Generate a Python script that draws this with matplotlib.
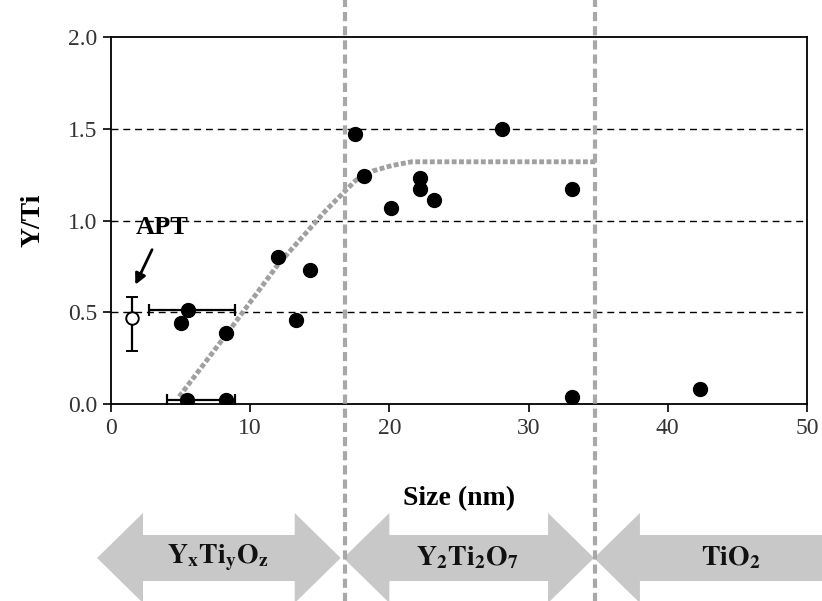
import matplotlib
matplotlib.use("Agg")
import matplotlib.pyplot as plt
import matplotlib.transforms as mtransforms
from matplotlib.patches import Polygon

plt.rcParams['font.family'] = ['Liberation Serif', 'DejaVu Serif']
plt.rcParams['mathtext.fontset'] = 'stix'

# measured points (size nm, Y/Ti)
size_nm = [5.0, 5.5, 5.45, 8.27, 8.27, 12.0, 13.3, 14.27, 17.55, 18.2,
           20.1, 22.2, 22.2, 23.2, 28.06, 33.1, 33.1, 42.3]
y_ti = [0.44, 0.51, 0.02, 0.02, 0.385, 0.80, 0.46, 0.73, 1.47, 1.24,
        1.07, 1.23, 1.17, 1.11, 1.50, 1.17, 0.04, 0.08]

# APT point with vertical error bar
apt_x = 1.5
apt_y = 0.467
apt_err = [[0.178], [0.118]]

# horizontal error bars
herr_x = [5.5, 5.45]
herr_y = [0.51, 0.02]
herr_lo = [2.75, 1.45]
herr_hi = [3.4, 3.45]

# trend guide (gray dotted)
curve_x = [4.9, 8.3, 12.0, 15.5, 17.6, 18.8, 20.2, 21.6, 34.8]
curve_y = [0.04, 0.38, 0.76, 1.06, 1.22, 1.27, 1.30, 1.32, 1.32]

# phase boundaries and bottom arrows
boundaries = [16.8, 34.8]
phase_labels = [r'$\mathbf{Y_xTi_yO_z}$', r'$\mathbf{Y_2Ti_2O_7}$', r'$\mathbf{TiO_2}$']
phase_spans = [(-1.0, 16.5), (16.7, 34.7), (34.7, 53.0)]
phase_heads = [(True, True), (True, True), (True, False)]
label_x = [7.7, 25.6, 44.5]

fig = plt.figure(figsize=(8.22, 6.01), dpi=100)
ax = fig.add_axes([0.135, 0.3278, 0.8467, 0.6106])

ax.set_xlim(0, 50)
ax.set_ylim(0, 2.0)

for yy in [0.5, 1.0, 1.5]:
    ax.axhline(yy, color='black', lw=1.0, ls=(0, (5, 3.5)), zorder=1)

ax.plot(curve_x, curve_y, color='#a0a0a0', lw=3.5, ls=(0, (1.0, 0.5)), zorder=2)

ax.errorbar(herr_x, herr_y, xerr=[herr_lo, herr_hi], fmt='none', ecolor='black',
            elinewidth=1.6, capsize=4, capthick=1.6, zorder=3)
ax.plot(size_nm, y_ti, 'o', color='black', ms=10, zorder=4)
ax.errorbar([apt_x], [apt_y], yerr=apt_err, fmt='o', mfc='white', mec='black',
            mew=1.4, ms=9, ecolor='black', elinewidth=1.6, capsize=4, capthick=1.6, zorder=5)

ax.annotate('APT', xy=(1.75, 0.65), xytext=(3.7, 0.96), ha='center', va='center',
            fontsize=19, fontweight='bold',
            arrowprops=dict(arrowstyle='-|>', color='black', lw=2.0, mutation_scale=16,
                            shrinkA=6, shrinkB=0))

ax.set_xticks([0, 10, 20, 30, 40, 50])
ax.set_yticks([0.0, 0.5, 1.0, 1.5, 2.0])
ax.set_yticklabels(['0.0', '0.5', '1.0', '1.5', '2.0'])
ax.tick_params(direction='out', length=6, width=1.2, labelsize=17, pad=4,
               labelcolor='#333333')
for s in ax.spines.values():
    s.set_linewidth(1.3)

ax.set_xlabel('Size (nm)', fontsize=20, fontweight='bold', labelpad=34)
ax.set_ylabel('Y/Ti', fontsize=20, fontweight='bold', labelpad=16)

# vertical phase boundary lines running through the whole figure
for b in boundaries:
    ax.axvline(b, ymin=-0.54, ymax=1.11, color='#a8a8a8', lw=3.0,
               ls=(0, (2.2, 1.2)), clip_on=False, zorder=6)

# block arrows under the axis
trans = mtransforms.blended_transform_factory(ax.transData, fig.transFigure)
yc = 1 - 558 / 601
body = 23 / 601
head = 45 / 601
hl = 3.3
for (x0, x1), (left, right), lab, lx in zip(phase_spans, phase_heads, phase_labels, label_x):
    pts = []
    if left:
        pts += [(x0, yc), (x0 + hl, yc + head), (x0 + hl, yc + body)]
    else:
        pts += [(x0, yc + body)]
    if right:
        pts += [(x1 - hl, yc + body), (x1 - hl, yc + head), (x1, yc),
                (x1 - hl, yc - head), (x1 - hl, yc - body)]
    else:
        pts += [(x1, yc + body), (x1, yc - body)]
    if left:
        pts += [(x0 + hl, yc - body), (x0 + hl, yc - head)]
    else:
        pts += [(x0, yc - body)]
    ax.add_patch(Polygon(pts, closed=True, transform=trans, facecolor='#c8c8c8',
                         edgecolor='none', clip_on=False, zorder=0))
    ax.text(lx, yc, lab, transform=trans, ha='center', va='center', fontsize=20,
            color='#111111', zorder=7)

fig.savefig('out.png', dpi=100)
